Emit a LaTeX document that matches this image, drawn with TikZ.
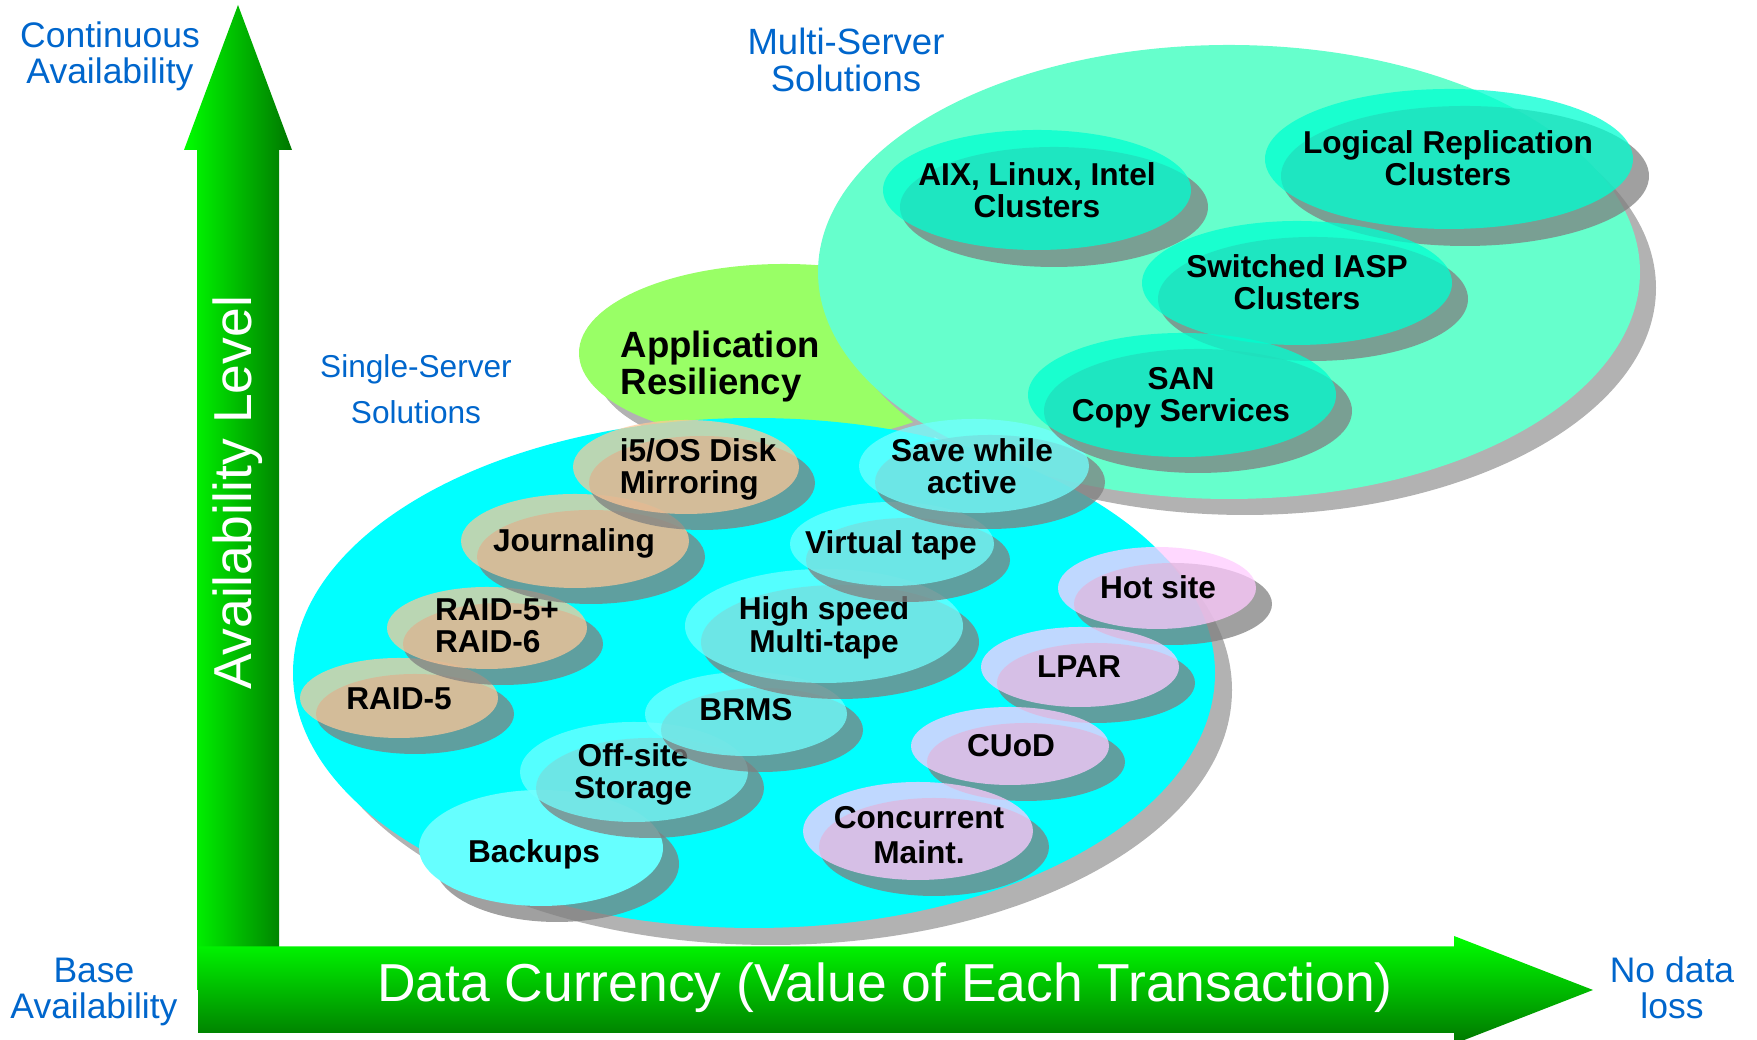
\documentclass[tikz,border=0pt]{standalone}
\usepackage{fontspec}
\setmainfont{Liberation Sans}

\definecolor{labelblue}{RGB}{0,102,204}
\definecolor{arrowlight}{RGB}{0,255,0}
\definecolor{arrowdark}{RGB}{0,118,0}
\definecolor{biggrey}{RGB}{178,178,178}
\definecolor{dropgrey}{RGB}{128,128,128}
\definecolor{appgreen}{RGB}{153,255,102}
\definecolor{multimint}{RGB}{102,255,204}
\definecolor{singlecyan}{RGB}{0,255,255}
\definecolor{tanfill}{RGB}{255,200,152}
\definecolor{cyanfill}{RGB}{113,255,255}
\definecolor{backupfill}{RGB}{102,255,255}
\definecolor{pinkfill}{RGB}{255,203,255}
\definecolor{mintfill}{RGB}{0,255,209}

\tikzset{
  bigdrop/.style={fill=biggrey},
  blobdrop/.style={fill=dropgrey, fill opacity=0.75},
  tanblob/.style={fill=tanfill, fill opacity=0.73},
  cyanblob/.style={fill=cyanfill, fill opacity=0.75},
  pinkblob/.style={fill=pinkfill, fill opacity=0.75},
  mintblob/.style={fill=mintfill, fill opacity=0.75},
  tag/.style={font=\bfseries\fontsize{9}{9.2}\selectfont, align=center, inner sep=0pt},
  side/.style={text=labelblue, font=\fontsize{10.1}{10.3}\selectfont, align=center, inner sep=0pt}
}

\begin{document}
\begin{tikzpicture}
    \useasboundingbox (0,0) rectangle (17.57,10.40);

    % Axes
    \shade[left color=arrowlight, right color=arrowdark] (1.97,0.50) -- (1.97,8.90) -- (1.84,8.90) -- (2.38,10.35) -- (2.92,8.90) -- (2.79,8.90) -- (2.79,0.50) -- cycle;
    \shade[top color=arrowlight, bottom color=arrowdark] (1.98,0.07) -- (1.98,0.935) -- (14.54,0.935) -- (14.54,1.04) -- (15.93,0.50) -- (14.54,-0.04) -- (14.54,0.07) -- cycle;
    \node[rotate=90, text=white, font=\fontsize{15.2}{16}\selectfont] (level) at (2.38,5.47) {Availability Level};
    \node[text=white, font=\fontsize{15.2}{16}\selectfont] (currency) at (8.85,0.52) {Data Currency (Value of Each Transaction)};

    % Axis ends
    \node[side] (continuous) at (1.10,9.84) {Continuous\\Availability};
    \node[side] (base) at (0.94,0.48) {Base\\Availability};
    \node[side] (noloss) at (16.72,0.52) {No data\\loss};

    % Solution families
    \fill[bigdrop] (8.01,6.70) ellipse (2.05 and 0.89);
    \fill[appgreen] (7.84,6.87) ellipse (2.05 and 0.89);
    \fill[bigdrop] (12.45,7.52) ellipse (4.11 and 2.27);
    \fill[multimint] (12.29,7.68) ellipse (4.11 and 2.27);
    \fill[bigdrop] (7.71,3.50) ellipse (4.61 and 2.55);
    \fill[singlecyan] (7.54,3.67) ellipse (4.61 and 2.55);

    \node[side, font=\fontsize{10.4}{10.3}\selectfont] (multi) at (8.46,9.80) {Multi-Server\\Solutions};
    \node[side, font=\fontsize{9}{13}\selectfont] (single) at (4.16,6.51) {Single-Server\\Solutions};
    \node[font=\bfseries\fontsize{10.4}{10.5}\selectfont, align=left, anchor=west, inner sep=0pt] (appres) at (6.20,6.735) {Application\\Resiliency};

    % Disk protection (tan)
    \fill[blobdrop] (4.15,3.26) ellipse (0.99 and 0.40);
    \fill[tanblob] (3.99,3.42) ellipse (0.99 and 0.40);
    \node[tag] (raid5) at (3.99,3.41) {RAID-5};

    \fill[blobdrop] (5.03,3.96) ellipse (1.00 and 0.41);
    \fill[tanblob] (4.87,4.12) ellipse (1.00 and 0.41);
    \node[tag, align=left] (raid6) at (4.97,4.145) {RAID-5+\\RAID-6};

    \fill[blobdrop] (5.91,4.83) ellipse (1.14 and 0.47);
    \fill[tanblob] (5.75,4.99) ellipse (1.14 and 0.47);
    \node[tag] (journal) at (5.74,4.97) {Journaling};

    \fill[blobdrop] (7.02,5.57) ellipse (1.13 and 0.47);
    \fill[tanblob] (6.86,5.73) ellipse (1.13 and 0.47);
    \node[tag, align=left] (mirror) at (6.98,5.705) {i5/OS Disk\\Mirroring};

    % Save and tape (cyan)
    \fill[blobdrop] (5.57,1.76) ellipse (1.22 and 0.58);
    \fill[backupfill] (5.41,1.92) ellipse (1.22 and 0.58);
    \node[tag] (backups) at (5.34,1.855) {Backups};

    \fill[blobdrop] (6.50,2.52) ellipse (1.14 and 0.50);
    \fill[cyanblob] (6.34,2.68) ellipse (1.14 and 0.50);
    \node[tag] (offsite) at (6.33,2.655) {Off-site\\Storage};

    \fill[blobdrop] (7.62,3.10) ellipse (1.01 and 0.42);
    \fill[cyanblob] (7.46,3.26) ellipse (1.01 and 0.42);
    \node[tag] (brms) at (7.46,3.30) {BRMS};

    \fill[blobdrop] (8.40,3.98) ellipse (1.39 and 0.57);
    \fill[cyanblob] (8.24,4.14) ellipse (1.39 and 0.57);
    \node[tag] (multitape) at (8.24,4.12) {High speed\\Multi-tape};

    \fill[blobdrop] (9.08,4.80) ellipse (1.02 and 0.42);
    \fill[cyanblob] (8.92,4.96) ellipse (1.02 and 0.42);
    \node[tag] (vtape) at (8.91,4.95) {Virtual tape};

    \fill[blobdrop] (9.90,5.58) ellipse (1.15 and 0.47);
    \fill[cyanblob] (9.74,5.74) ellipse (1.15 and 0.47);
    \node[tag] (save) at (9.72,5.74) {Save while\\active};

    % Hardware (pink)
    \fill[blobdrop] (11.73,4.36) ellipse (0.99 and 0.41);
    \fill[pinkblob] (11.57,4.52) ellipse (0.99 and 0.41);
    \node[tag] (hotsite) at (11.58,4.53) {Hot site};

    \fill[blobdrop] (10.96,3.57) ellipse (0.99 and 0.40);
    \fill[pinkblob] (10.80,3.73) ellipse (0.99 and 0.40);
    \node[tag] (lpar) at (10.79,3.73) {LPAR};

    \fill[blobdrop] (10.26,2.78) ellipse (0.99 and 0.39);
    \fill[pinkblob] (10.10,2.94) ellipse (0.99 and 0.39);
    \node[tag] (cuod) at (10.11,2.94) {CUoD};

    \fill[blobdrop] (9.34,1.93) ellipse (1.15 and 0.49);
    \fill[pinkblob] (9.18,2.09) ellipse (1.15 and 0.49);
    \node[tag, font=\bfseries\fontsize{9}{10}\selectfont] (maint) at (9.19,2.05) {Concurrent\\Maint.};

    % Clusters (mint)
    \fill[blobdrop] (10.54,8.33) ellipse (1.54 and 0.60);
    \fill[mintblob] (10.37,8.50) ellipse (1.54 and 0.60);
    \node[tag] (aix) at (10.37,8.50) {AIX, Linux, Intel\\Clusters};

    \fill[blobdrop] (14.65,8.64) ellipse (1.84 and 0.70);
    \fill[mintblob] (14.49,8.81) ellipse (1.84 and 0.70);
    \node[tag] (logical) at (14.48,8.82) {Logical Replication\\Clusters};

    \fill[blobdrop] (13.13,7.41) ellipse (1.55 and 0.62);
    \fill[mintblob] (12.97,7.57) ellipse (1.55 and 0.62);
    \node[tag] (iasp) at (12.97,7.58) {Switched IASP\\Clusters};

    \fill[blobdrop] (11.98,6.29) ellipse (1.54 and 0.62);
    \fill[mintblob] (11.82,6.45) ellipse (1.54 and 0.62);
    \node[tag] (san) at (11.81,6.42) {SAN\\Copy Services};
\end{tikzpicture}
\end{document}
